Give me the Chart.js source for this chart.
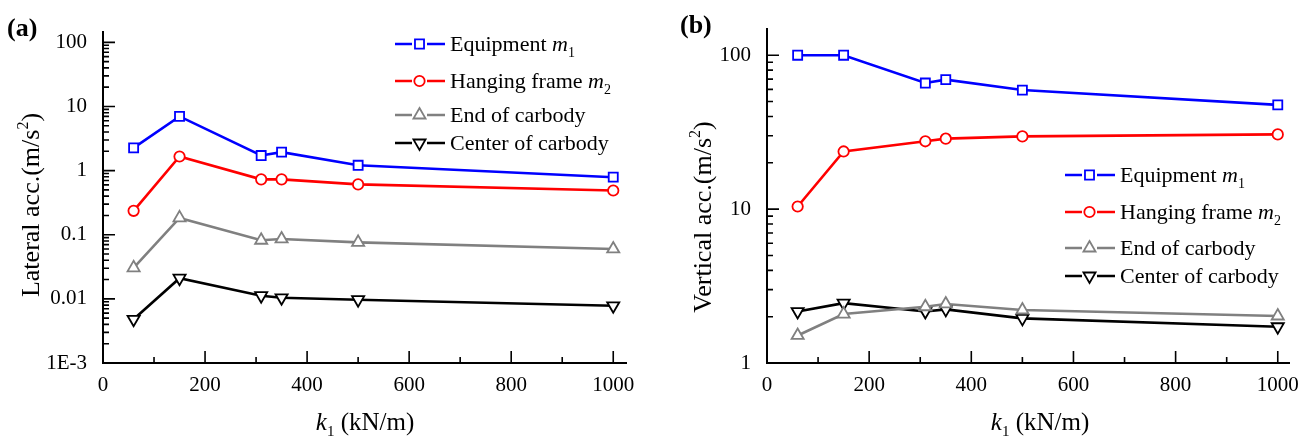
<!DOCTYPE html>
<html>
<head>
<meta charset="utf-8">
<script src="https://cdn.jsdelivr.net/npm/chart.js@4.4.1/dist/chart.umd.min.js"></script>
<style>
  body{margin:0;background:#fff;font-family:'Liberation Serif','Times New Roman',serif;}
  .panel{position:absolute;top:0;height:440px;}
  #pa{left:0;width:655px;}
  #pb{left:655px;width:654px;}
</style>
</head>
<body>
<div class="panel" id="pa"><canvas id="chartA"></canvas></div>
<div class="panel" id="pb"><canvas id="chartB"></canvas></div>
<script>
// k1 stiffness values (kN/m)
const k1 = [60, 150, 310, 350, 500, 1000];

// (a) lateral acceleration (m/s^2)
const latEquipment = [2.26, 7.0, 1.72, 1.94, 1.21, 0.79];
const latFrame     = [0.236, 1.66, 0.73, 0.73, 0.61, 0.49];
const latEnd       = [0.0305, 0.183, 0.082, 0.086, 0.076, 0.060];
const latCenter    = [0.0048, 0.021, 0.0112, 0.0104, 0.0097, 0.0078];

// (b) vertical acceleration (m/s^2)
const verEquipment = [100, 100, 66, 69.4, 59.4, 47.6];
const verFrame     = [10.4, 23.7, 27.6, 28.7, 29.7, 30.6];
const verEnd       = [1.51, 2.08, 2.32, 2.42, 2.21, 2.02];
const verCenter    = [2.16, 2.45, 2.16, 2.23, 1.95, 1.72];

const xTicks = [0, 200, 400, 600, 800, 1000];
const yTicksA = [0.001, 0.01, 0.1, 1, 10, 100];
const yLabelsA = ['1E-3', '0.01', '0.1', '1', '10', '100'];
const yTicksB = [1, 10, 100];
const yLabelsB = ['1', '10', '100'];

const SERIF = "'Liberation Serif', 'Times New Roman', serif";

const seriesStyle = [
  {color:'#0000ff', style:'rect', radius:6.4, rot:0},
  {color:'#ff0000', style:'circle', radius:5.2, rot:0},
  {color:'#808080', style:'triangle', radius:7, rot:0},
  {color:'#000000', style:'triangle', radius:7, rot:180}
];

function makeSets(arrs){
  return arrs.map((vals, i) => {
    const s = seriesStyle[i];
    return {
      data: k1.map((x, j) => ({x: x, y: vals[j]})),
      borderColor: s.color, borderWidth: 2.6,
      pointStyle: s.style, pointRadius: s.radius, pointRotation: s.rot,
      pointBackgroundColor: '#fff', pointBorderColor: s.color, pointBorderWidth: 1.8,
      tension: 0
    };
  });
}

function richText(ctx, parts, x, y, align){
  let w = 0;
  parts.forEach(p => { ctx.font = p.font; w += ctx.measureText(p.t).width; });
  let cx = align === 'center' ? x - w/2 : x;
  ctx.textAlign = 'left'; ctx.textBaseline = 'alphabetic'; ctx.fillStyle = '#000';
  parts.forEach(p => {
    ctx.font = p.font;
    ctx.fillText(p.t, cx, y + (p.dy || 0));
    cx += ctx.measureText(p.t).width;
  });
}

function marker(ctx, s, x, y){
  ctx.save();
  ctx.strokeStyle = s.color; ctx.fillStyle = '#fff'; ctx.lineWidth = 1.8;
  ctx.beginPath();
  if(s.style === 'rect'){
    const h = s.radius * Math.SQRT1_2;
    ctx.rect(x - h, y - h, 2*h, 2*h);
  } else if(s.style === 'circle'){
    ctx.arc(x, y, s.radius, 0, Math.PI*2);
  } else {
    const r = s.radius, d = s.rot ? -1 : 1;
    ctx.moveTo(x, y - d*r);
    ctx.lineTo(x + r*Math.cos(Math.PI/6), y + d*r*Math.sin(Math.PI/6));
    ctx.lineTo(x - r*Math.cos(Math.PI/6), y + d*r*Math.sin(Math.PI/6));
    ctx.closePath();
  }
  ctx.fill(); ctx.stroke();
  ctx.restore();
}

const legendParts = [
  [{t:'Equipment ', font:`22px ${SERIF}`}, {t:'m', font:`italic 22px ${SERIF}`}, {t:'1', font:`14px ${SERIF}`, dy:6}],
  [{t:'Hanging frame ', font:`22px ${SERIF}`}, {t:'m', font:`italic 22px ${SERIF}`}, {t:'2', font:`14px ${SERIF}`, dy:6}],
  [{t:'End of carbody', font:`22px ${SERIF}`}],
  [{t:'Center of carbody', font:`22px ${SERIF}`}]
];

// decorations: inward tick marks, titles, legend, panel letter
function decor(opt){
  return {
    id: 'decor',
    afterDraw(chart){
      const {ctx, chartArea: a, scales: {x, y}} = chart;
      ctx.save();
      ctx.strokeStyle = '#000'; ctx.lineWidth = 1.6;
      ctx.beginPath();
      for(let v = 100; v <= 1000; v += 100){
        const px = x.getPixelForValue(v), len = v % 200 === 0 ? 12 : 6;
        ctx.moveTo(px, a.bottom); ctx.lineTo(px, a.bottom - len);
      }
      for(let e = Math.log10(y.min); e <= Math.log10(y.max); e++){
        for(let m = 1; m <= 9; m++){
          const v = m * Math.pow(10, e);
          if(v > y.max || v <= y.min) continue;
          const py = y.getPixelForValue(v), len = m === 1 ? 12 : 6;
          ctx.moveTo(a.left, py); ctx.lineTo(a.left + len, py);
        }
      }
      ctx.stroke();

      // panel letter
      ctx.fillStyle = '#000';
      ctx.font = `bold 26px ${SERIF}`;
      ctx.textAlign = 'left'; ctx.textBaseline = 'alphabetic';
      ctx.fillText(opt.letter, opt.letterX, opt.letterY);

      // x title
      richText(ctx, [
        {t:'k', font:`italic 25px ${SERIF}`},
        {t:'1', font:`15px ${SERIF}`, dy:6},
        {t:' (kN/m)', font:`25px ${SERIF}`}
      ], opt.xTitleX, 430, 'center');

      // y title
      ctx.save();
      ctx.translate(opt.yTitleX, opt.yTitleY);
      ctx.rotate(-Math.PI/2);
      richText(ctx, [
        {t:opt.yTitle + '(m/s', font:`26px ${SERIF}`},
        {t:'2', font:`16px ${SERIF}`, dy:-11},
        {t:')', font:`26px ${SERIF}`}
      ], 0, 0, 'center');
      ctx.restore();

      // legend
      opt.legendY.forEach((ly, i) => {
        const s = seriesStyle[i];
        ctx.strokeStyle = s.color; ctx.lineWidth = 2.6;
        ctx.beginPath();
        ctx.moveTo(opt.legendX, ly); ctx.lineTo(opt.legendX + 17, ly);
        ctx.moveTo(opt.legendX + 32, ly); ctx.lineTo(opt.legendX + 50, ly);
        ctx.stroke();
        marker(ctx, s, opt.legendX + 24.5, ly);
        richText(ctx, legendParts[i], opt.legendX + 55, ly + 7, 'left');
      });
      ctx.restore();
    }
  };
}

function makeChart(id, sets, yMin, yMax, yTicks, yLabels, xMax, yWidth, pad, opt){
  return new Chart(document.getElementById(id), {
    type: 'line',
    data: {datasets: makeSets(sets)},
    options: {
      responsive: true, maintainAspectRatio: false, animation: false,
      layout: {padding: pad},
      plugins: {legend: {display: false}, tooltip: {enabled: false}},
      scales: {
        x: {
          type: 'linear', min: 0, max: xMax,
          afterBuildTicks: s => { s.ticks = xTicks.map(v => ({value: v})); },
          afterFit: s => { s.height = 77; },
          ticks: {color: '#000', font: {family: SERIF, size: 21}, padding: 10, maxRotation: 0,
                  callback: v => String(v)},
          grid: {display: false, drawTicks: false},
          border: {display: true, color: '#000', width: 2}
        },
        y: {
          type: 'logarithmic', min: yMin, max: yMax,
          afterBuildTicks: s => { s.ticks = yTicks.map(v => ({value: v})); },
          afterFit: s => { s.width = yWidth; },
          ticks: {
            color: '#000', font: {family: SERIF, size: 21}, padding: 16,
            callback: v => { const i = yTicks.indexOf(v); return i >= 0 ? yLabels[i] : ''; }
          },
          grid: {display: false, drawTicks: false},
          border: {display: true, color: '#000', width: 2}
        }
      }
    },
    plugins: [decor(opt)]
  });
}

makeChart('chartA', [latEquipment, latFrame, latEnd, latCenter], 0.001, 145, yTicksA, yLabelsA, 1025, 103,
  {left: 0, right: 29, top: 32, bottom: 0},
  {letter:'(a)', letterX:7, letterY:36, xTitleX:365, yTitleX:39, yTitleY:205, yTitle:'Lateral acc.',
   legendX:395, legendY:[44, 81, 115, 143]});

makeChart('chartB', [verEquipment, verFrame, verEnd, verCenter], 1, 149, yTicksB, yLabelsB, 1022, 112,
  {left: 0, right: 11, top: 26, bottom: 0},
  {letter:'(b)', letterX:25, letterY:33, xTitleX:385, yTitleX:56, yTitleY:217, yTitle:'Vertical acc.',
   legendX:410, legendY:[175, 212, 248, 276]});
</script>
</body>
</html>
